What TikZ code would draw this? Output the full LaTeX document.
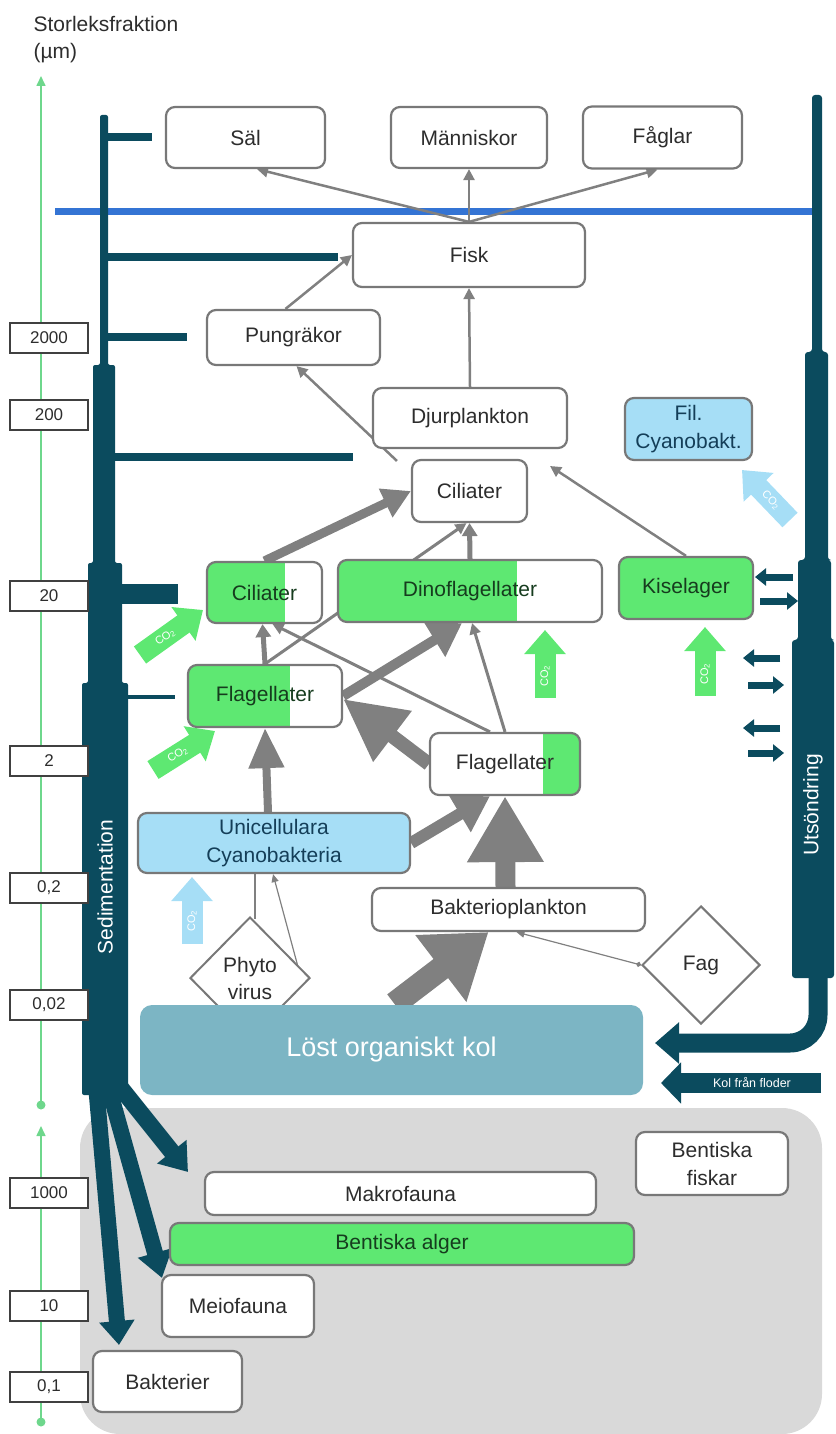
\documentclass[tikz,border=0pt]{standalone}
\usepackage{fontspec}
\setmainfont{Liberation Sans}
\usetikzlibrary{arrows.meta,shapes.geometric}
\definecolor{dteal}{RGB}{11,75,94}
\definecolor{gfill}{RGB}{94,232,114}
\definecolor{lblue}{RGB}{166,222,246}
\definecolor{bgray}{RGB}{120,120,120}
\definecolor{agray}{RGB}{128,128,128}
\definecolor{region}{RGB}{217,217,217}
\definecolor{lostc}{RGB}{124,181,196}
\definecolor{axisg}{RGB}{110,215,140}
\definecolor{blueln}{RGB}{52,116,212}
\definecolor{txt}{RGB}{45,45,45}
\definecolor{gtxt}{RGB}{22,60,30}
\definecolor{btxt}{RGB}{20,62,88}
\pgfdeclarelayer{back}
\pgfdeclarelayer{mid}
\pgfsetlayers{back,mid,main}
\begin{document}
\begin{tikzpicture}[x=1pt,y=-1pt,
  lab/.style={font=\fontsize{21}{28}\selectfont},
  box/.style={draw=bgray, line width=2.2pt, rounded corners=9pt, fill=white, inner sep=0pt, align=center, text=txt, lab},
  sbox/.style={draw=black!75, line width=1.3pt, fill=white, minimum width=78pt, minimum height=30pt, inner sep=0pt, text=txt, font=\fontsize{17}{19}\selectfont},
  dia/.style={diamond, draw=bgray, line width=2pt, fill=white, inner sep=0pt, align=center, text=txt, font=\fontsize{21}{27}\selectfont},
  gl/.style={path picture={\fill[gfill, sharp corners] (path picture bounding box.south west) rectangle ([xshift=#1]path picture bounding box.north west);}},
  gr/.style={path picture={\fill[gfill, sharp corners] (path picture bounding box.south east) rectangle ([xshift=-#1]path picture bounding box.north east);}},
  ga/.style args={#1/#2/#3}{draw=agray, line width=#1, -{Triangle[width=#2,length=#3]}},
  ta/.style args={#1/#2/#3}{draw=dteal, line width=#1, -{Triangle[width=#2,length=#3]}},
  tb/.style={draw=dteal, line width=#1},
  ca/.style={draw=#1, line width=21pt, -{Triangle[width=40pt,length=24pt]}},
  co/.style={text=white, font=\fontsize{11}{12}\selectfont, inner sep=0pt},
]
\useasboundingbox (0,0) rectangle (835,1434);

% ---------- texts of axis
\node[anchor=west, text=txt, lab] (t1) at (30,24) {Storleksfraktion};
\node[anchor=west, text=txt, lab] (t2) at (30,53) {(µm)};

% ---------- scale boxes
\node[sbox] (s2000) at (49,338) {2000};
\node[sbox] (s200) at (49,415) {200};
\node[sbox] (s20) at (49,596) {20};
\node[sbox] (s2) at (49,761) {2};
\node[sbox] (s02) at (49,888) {0,2};
\node[sbox] (s002) at (49,1005) {0,02};
\node[sbox] (s1000) at (49,1193) {1000};
\node[sbox] (s10) at (49,1306) {10};
\node[sbox] (s01) at (49,1387) {0,1};

% ---------- boxes
\node[box, minimum width=159pt, minimum height=61pt] (sal) at (245.5,137.5) {Säl};
\node[box, minimum width=156pt, minimum height=61pt] (mann) at (469,137.5) {Människor};
\node[box, minimum width=159pt, minimum height=62pt] (fagl) at (662.5,137.5) {Fåglar};
\node[box, minimum width=232pt, minimum height=64pt] (fisk) at (469,255) {Fisk};
\node[box, minimum width=173pt, minimum height=55pt] (pung) at (293.5,337.5) {Pungräkor};
\node[box, minimum width=194pt, minimum height=60pt] (djur) at (470,418) {Djurplankton};
\node[box, fill=lblue, text=btxt, minimum width=127pt, minimum height=62pt] (fil) at (688.5,429) {Fil.\\Cyanobakt.};
\node[box, minimum width=115pt, minimum height=62pt] (cil1) at (469.5,491) {Ciliater};
\node[box, gl=78pt, text=gtxt, minimum width=115pt, minimum height=61pt] (cil2) at (264.5,592.5) {Ciliater};
\node[box, gl=179pt, text=gtxt, minimum width=264pt, minimum height=62pt] (dino) at (470,591) {Dinoflagellater};
\node[box, fill=gfill, text=gtxt, minimum width=134pt, minimum height=62pt] (kisel) at (686,588) {Kiselager};
\node[box, gl=102pt, text=gtxt, minimum width=154pt, minimum height=62pt] (flag1) at (265,696) {Flagellater};
\node[box, gr=37pt, minimum width=150pt, minimum height=62pt] (flag2) at (505,764) {Flagellater};
\node[box, fill=lblue, text=btxt, minimum width=272pt, minimum height=60pt] (uni) at (274,843) {Unicellulara\\Cyanobakteria};
\node[box, minimum width=273pt, minimum height=43pt] (bakt) at (508.5,909.5) {Bakterioplankton};
\node[dia, minimum width=120pt, minimum height=122pt] (phyto) at (250,978) {Phyto\\virus};
\node[dia, minimum width=118pt, minimum height=118pt] (fag) at (701,965) {Fag};
\node[box, fill=lostc, draw=none, rounded corners=12pt, text=white, font=\fontsize{27}{30}\selectfont, minimum width=503pt, minimum height=90pt] (lost) at (391.5,1050) {Löst organiskt kol};
\node[box, minimum width=152pt, minimum height=63pt] (bfisk) at (712,1163.5) {Bentiska\\fiskar};
\node[box, minimum width=391pt, minimum height=43pt] (makro) at (400.5,1193.5) {Makrofauna};
\node[box, fill=gfill, text=gtxt, minimum width=464pt, minimum height=42pt] (alger) at (402,1244) {Bentiska alger};
\node[box, minimum width=152pt, minimum height=62pt] (meio) at (238,1306) {Meiofauna};
\node[box, minimum width=149pt, minimum height=61pt] (bakter) at (167.5,1381.5) {Bakterier};

% ---------- background
\begin{pgfonlayer}{back}
\fill[region, rounded corners=40pt] (80,1108) rectangle (822,1434);
\draw[axisg, line width=1.6pt, -{Triangle[width=9pt,length=10pt]}] (41,1105) -- (41,76);
\fill[axisg] (41,1105) circle (4.5pt);
\draw[axisg, line width=1.6pt, -{Triangle[width=9pt,length=10pt]}] (41,1422) -- (41,1126);
\fill[axisg] (41,1422) circle (4.5pt);
\draw[blueln, line width=7pt] (55,211) -- (813,211);
\end{pgfonlayer}

\begin{pgfonlayer}{mid}
% left column (Sedimentation)
\fill[dteal, rounded corners=2pt] (100,115) -- (108,115) -- (108,365) -- (115,365) -- (115,563) -- (122,563) -- (122,683) -- (128,683) -- (128,1095) -- (82,1095) -- (82,683) -- (88,683) -- (88,563) -- (93,563) -- (93,365) -- (100,365) -- cycle;
\node[rotate=90, text=white, lab] (sed) at (105,887) {Sedimentation};
\draw[tb=8pt] (104,137) -- (152,137);
\draw[tb=8pt] (104,257) -- (338,257);
\draw[tb=8pt] (104,337) -- (187,337);
\draw[tb=8pt] (110,457) -- (353,457);
\draw[tb=20pt] (115,594) -- (178,594);
\draw[tb=4pt] (125,697) -- (175,697);
\draw[ta=17pt/36pt/26pt] (116,1082) -- (188,1172);
\draw[ta=16pt/34pt/26pt] (108,1085) -- (162,1278);
\draw[ta=16pt/34pt/24pt] (96,1085) -- (119,1345);
% right column (Utsondring)
\fill[dteal, rounded corners=3pt] (812,95) -- (822,95) -- (822,352) -- (828,352) -- (828,560) -- (831,560) -- (831,640) -- (834,640) -- (834,978) -- (792,978) -- (792,640) -- (798,640) -- (798,560) -- (805,560) -- (805,352) -- (812,352) -- cycle;
\node[rotate=90, text=white, lab] (uts) at (813,805) {Utsöndring};
\coordinate (u1) at (818,965);
\coordinate (u2) at (655,1043);
\draw[ta=19pt/40pt/24pt, rounded corners=28pt] (u1) -- (818,1043) -- (u2);
\coordinate (k1) at (821,1083);
\coordinate (k2) at (661,1083);
\draw[ta=20pt/40pt/20pt] (k1) -- (k2);
\node[text=white, font=\fontsize{12.5}{14}\selectfont] (kol) at (752,1083) {Kol från floder};
\draw[ta=7pt/17pt/11pt] (793,577) -- (755,577);
\draw[ta=7pt/17pt/11pt] (760,601) -- (798,601);
\draw[ta=7pt/17pt/11pt] (780,658) -- (743,658);
\draw[ta=7pt/17pt/11pt] (748,685) -- (784,685);
\draw[ta=7pt/17pt/11pt] (780,728) -- (743,728);
\draw[ta=7pt/17pt/11pt] (748,753) -- (784,753);

% gray food-web arrows
\draw[ga=2.5pt/11pt/11pt] (fisk.north) -- ([xshift=11.5pt]sal.south);
\draw[ga=2.5pt/11pt/11pt] (fisk.north) -- (mann.south);
\draw[ga=2.5pt/11pt/11pt] (fisk.north) -- ([xshift=-5pt]fagl.south);
\draw[ga=2.5pt/11pt/11pt] ([xshift=-8pt]pung.north) -- (fisk.west);
\draw[ga=2.5pt/11pt/11pt] (djur.north) -- (fisk.south);
\draw[ga=2.5pt/11pt/11pt] ([xshift=-14pt,yshift=-2pt]cil1.north west) -- ([xshift=3pt]pung.south);
\coordinate (kt) at (550,466);
\draw[ga=2.5pt/11pt/11pt] (kisel.north) -- (kt);
\draw[ga=9pt/30pt/28pt] (cil2.north) -- (cil1.west);
\draw[ga=5pt/15pt/13pt] (dino.north) -- (cil1.south);
\draw[ga=3pt/11pt/11pt] (flag1.north) -- ([xshift=-3pt]cil1.south);
\draw[ga=5pt/15pt/13pt] (flag1.north) -- ([xshift=-2pt]cil2.south);
\draw[ga=3pt/11pt/11pt] ([xshift=-15pt]flag2.north) -- ([xshift=8pt]cil2.south);
\draw[ga=3pt/11pt/11pt] (flag2.north) -- ([xshift=2pt]dino.south);
\draw[ga=10pt/38pt/32pt] (flag1.east) -- ([xshift=-8pt]dino.south);
\draw[ga=14pt/60pt/62pt] (flag2.west) -- ([yshift=-3pt]flag1.east);
\draw[ga=8pt/34pt/40pt] ([xshift=-6pt]uni.north) -- (flag1.south);
\draw[ga=12pt/40pt/35pt] (uni.east) -- ([xshift=-15pt]flag2.south);
\draw[ga=20pt/72pt/66pt] ([xshift=-3pt]bakt.north) -- (flag2.south);
\draw[ga=24pt/80pt/60pt] ([xshift=3pt]lost.north) -- ([xshift=-20pt]bakt.south);
\draw[agray, line width=1.2pt] ([xshift=-19pt]uni.south) -- ([xshift=5pt,yshift=-3pt]phyto.north);
\draw[agray, line width=1.2pt, {Triangle[width=6pt,length=6pt]}-{Triangle[width=7pt,length=8pt]}] ([xshift=-10pt]phyto.east) -- ([xshift=-1pt]uni.south);
\draw[agray, line width=1.2pt, {Circle[length=5pt]}-{Triangle[width=7pt,length=8pt]}] (fag.west) -- ([xshift=8pt]bakt.south);

% CO2 arrows
\coordinate (c1a) at (140,655); \coordinate (c1b) at (203,610);
\draw[ca=gfill] (c1a) -- node[co, sloped, pos=0.4] (c1t) {CO\textsubscript{2}} (c1b);
\coordinate (c2a) at (153,770); \coordinate (c2b) at (215,731);
\draw[ca=gfill] (c2a) -- node[co, sloped, pos=0.4] (c2t) {CO\textsubscript{2}} (c2b);
\coordinate (c3a) at (545,698); \coordinate (c3b) at (545,630);
\draw[ca=gfill] (c3a) -- (c3b);
\node[co, rotate=90] (c3t) at (545,676) {CO\textsubscript{2}};
\coordinate (c4a) at (705,696); \coordinate (c4b) at (705,627);
\draw[ca=gfill] (c4a) -- (c4b);
\node[co, rotate=90] (c4t) at (705,674) {CO\textsubscript{2}};
\coordinate (c5a) at (192,944); \coordinate (c5b) at (192,877);
\draw[ca=lblue] (c5a) -- (c5b);
\node[co, rotate=90] (c5t) at (192,921) {CO\textsubscript{2}};
\coordinate (c6a) at (790,520); \coordinate (c6b) at (742,470);
\draw[ca=lblue] (c6a) -- node[co, sloped, pos=0.4] (c6t) {CO\textsubscript{2}} (c6b);
\end{pgfonlayer}
\end{tikzpicture}
\end{document}
